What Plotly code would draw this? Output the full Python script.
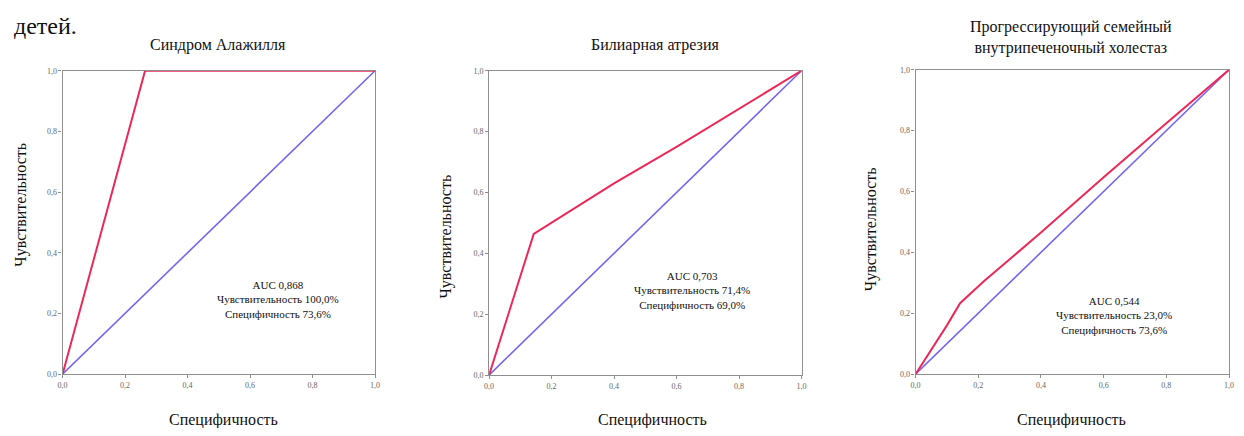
import plotly.graph_objects as go

# Window is 1244x436; the page body has an 8px margin, so the figure is sized to fit inside.
WIN_W, WIN_H = 1244, 436
OFF = 8
W, H = WIN_W - 2 * OFF, WIN_H - 2 * OFF

titles = ["Синдром Алажилля", "Билиарная атрезия", "Прогрессирующий семейный<br>внутрипеченочный холестаз"]
roc_x = [
    [0.0, 0.264, 1.0],
    [0.0, 0.143, 0.4, 0.6, 1.0],
    [0.0, 0.10, 0.142, 0.216, 0.4, 0.6, 0.8, 1.0],
]
roc_y = [
    [0.0, 1.0, 1.0],
    [0.0, 0.464, 0.63, 0.75, 1.0],
    [0.0, 0.16, 0.233, 0.303, 0.465, 0.647, 0.824, 1.0],
]
ref_x = [0.0, 1.0]
ref_y = [0.0, 1.0]
auc = ["0,868", "0,703", "0,544"]
sens = ["100,0%", "71,4%", "23,0%"]
spec = ["73,6%", "69,0%", "73,6%"]
tick_vals = [0.0, 0.2, 0.4, 0.6, 0.8, 1.0]
tick_text = ["0,0", "0,2", "0,4", "0,6", "0,8", "1,0"]

# window-pixel layout: (x0, x1, ytop, ybottom)
boxes = [(58, 373, 68, 378), (488, 803, 68, 379), (918, 1234, 67, 378)]
title_pos = [(215, 42), (655, 42), (1075, 34)]
ytitle_pos = [(16, 205), (445, 237), (873, 230)]
xtitle_pos = [(220, 425), (653, 425), (1075, 425)]
ann_pos = [(275, 302), (693, 293), (1118, 318)]

SERIF = "Liberation Serif"
px = lambda x: (x - OFF) / W
py = lambda y: 1 - (y - OFF) / H

fig = go.Figure()
annotations = []
for i in range(3):
    xa = "x" if i == 0 else f"x{i+1}"
    ya = "y" if i == 0 else f"y{i+1}"
    fig.add_trace(go.Scatter(x=ref_x, y=ref_y, mode="lines", xaxis=xa, yaxis=ya,
                             line=dict(color="#7466ee", width=1.6), showlegend=False))
    fig.add_trace(go.Scatter(x=roc_x[i], y=roc_y[i], mode="lines", xaxis=xa, yaxis=ya,
                             line=dict(color="#ec2858", width=2), showlegend=False))
    x0, x1, yt, yb = boxes[i]
    axcommon = dict(range=[0, 1], tickvals=tick_vals, ticktext=tick_text, showgrid=False,
                    zeroline=False, showline=True, mirror=True, linecolor="#8f8f8f", linewidth=1.2,
                    ticks="outside", ticklen=3, tickcolor="#8f8f8f",
                    tickfont=dict(family=SERIF, size=8, color="#666"))
    fig.layout[("xaxis" if i == 0 else f"xaxis{i+1}")] = dict(
        domain=[px(x0), px(x1)], anchor=ya, **axcommon)
    fig.layout[("yaxis" if i == 0 else f"yaxis{i+1}")] = dict(
        domain=[py(yb), py(yt)], anchor=xa, **axcommon)

    tx, ty = title_pos[i]
    annotations.append(dict(text=titles[i], x=px(tx), y=py(ty), xref="paper", yref="paper",
                            showarrow=False, font=dict(family=SERIF, size=16, color="#111"),
                            xanchor="center", yanchor="middle"))
    yx, yy = ytitle_pos[i]
    annotations.append(dict(text="Чувствительность", x=px(yx), y=py(yy), xref="paper", yref="paper",
                            showarrow=False, textangle=-90,
                            font=dict(family=SERIF, size=16, color="#111"),
                            xanchor="center", yanchor="middle"))
    xx, xy = xtitle_pos[i]
    annotations.append(dict(text="Специфичность", x=px(xx), y=py(xy), xref="paper", yref="paper",
                            showarrow=False, font=dict(family=SERIF, size=16, color="#111"),
                            xanchor="center", yanchor="middle"))
    ax_, ay_ = ann_pos[i]
    annotations.append(dict(text=f"AUC {auc[i]}<br>Чувствительность {sens[i]}<br>Специфичность {spec[i]}",
                            x=px(ax_), y=py(ay_), xref="paper", yref="paper", showarrow=False,
                            align="center", font=dict(family=SERIF, size=11, color="#111"),
                            xanchor="center", yanchor="middle"))

annotations.append(dict(text="детей.", x=px(8), y=1, xref="paper", yref="paper",
                        showarrow=False, font=dict(family=SERIF, size=24, color="#111"),
                        xanchor="left", yanchor="top", borderpad=0))

fig.update_layout(width=W, height=H, margin=dict(l=0, r=0, t=0, b=0),
                  paper_bgcolor="white", plot_bgcolor="white", annotations=annotations)
fig.write_html("out.html")
